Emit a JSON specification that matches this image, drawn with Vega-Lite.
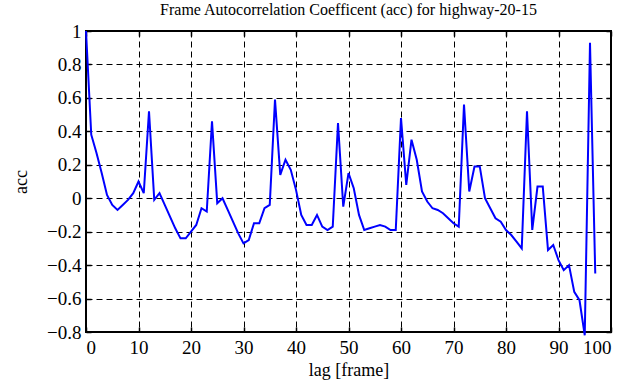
{
  "$schema": "https://vega.github.io/schema/vega-lite/v6.json",
  "autosize": "none",
  "width": 525,
  "height": 301,
  "padding": {"left": 86, "top": 31, "right": 30, "bottom": 55},
  "background": "white",
  "title": {"text": "Frame Autocorrelation Coefficent (acc) for highway-20-15", "font": "Liberation Serif", "fontSize": 16, "fontWeight": "normal", "color": "black", "offset": 4, "anchor": "middle"},
  "config": {
    "view": {"stroke": "black", "strokeWidth": 2},
    "axis": {"titleFont": "Liberation Serif", "titleFontSize": 18, "titleFontWeight": "normal", "labelColor": "black", "titleColor": "black", "domain": false, "tickColor": "black", "tickSize": -5, "tickWidth": 1.5, "gridColor": "black", "gridDash": [6, 4], "gridOpacity": 1, "gridWidth": 1}
  },
  "data": {"values": [
    {"lag": 0, "acc": 1.0}, {"lag": 1, "acc": 0.38}, {"lag": 2, "acc": 0.27}, {"lag": 3, "acc": 0.15}, {"lag": 4, "acc": 0.02},
    {"lag": 5, "acc": -0.04}, {"lag": 6, "acc": -0.07}, {"lag": 7, "acc": -0.04}, {"lag": 8, "acc": -0.01}, {"lag": 9, "acc": 0.03},
    {"lag": 10, "acc": 0.1}, {"lag": 11, "acc": 0.03}, {"lag": 12, "acc": 0.52}, {"lag": 13, "acc": -0.01}, {"lag": 14, "acc": 0.03},
    {"lag": 15, "acc": -0.04}, {"lag": 16, "acc": -0.11}, {"lag": 17, "acc": -0.18}, {"lag": 18, "acc": -0.24}, {"lag": 19, "acc": -0.24},
    {"lag": 20, "acc": -0.2}, {"lag": 21, "acc": -0.16}, {"lag": 22, "acc": -0.06}, {"lag": 23, "acc": -0.08}, {"lag": 24, "acc": 0.46},
    {"lag": 25, "acc": -0.03}, {"lag": 26, "acc": 0.0}, {"lag": 27, "acc": -0.07}, {"lag": 28, "acc": -0.14}, {"lag": 29, "acc": -0.21},
    {"lag": 30, "acc": -0.27}, {"lag": 31, "acc": -0.25}, {"lag": 32, "acc": -0.15}, {"lag": 33, "acc": -0.15}, {"lag": 34, "acc": -0.06},
    {"lag": 35, "acc": -0.04}, {"lag": 36, "acc": 0.59}, {"lag": 37, "acc": 0.14}, {"lag": 38, "acc": 0.23}, {"lag": 39, "acc": 0.17},
    {"lag": 40, "acc": 0.05}, {"lag": 41, "acc": -0.1}, {"lag": 42, "acc": -0.16}, {"lag": 43, "acc": -0.16}, {"lag": 44, "acc": -0.1},
    {"lag": 45, "acc": -0.17}, {"lag": 46, "acc": -0.19}, {"lag": 47, "acc": -0.17}, {"lag": 48, "acc": 0.45}, {"lag": 49, "acc": -0.05},
    {"lag": 50, "acc": 0.15}, {"lag": 51, "acc": 0.06}, {"lag": 52, "acc": -0.1}, {"lag": 53, "acc": -0.19}, {"lag": 54, "acc": -0.18},
    {"lag": 55, "acc": -0.17}, {"lag": 56, "acc": -0.16}, {"lag": 57, "acc": -0.17}, {"lag": 58, "acc": -0.19}, {"lag": 59, "acc": -0.19},
    {"lag": 60, "acc": 0.48}, {"lag": 61, "acc": 0.08}, {"lag": 62, "acc": 0.35}, {"lag": 63, "acc": 0.23}, {"lag": 64, "acc": 0.04},
    {"lag": 65, "acc": -0.02}, {"lag": 66, "acc": -0.06}, {"lag": 67, "acc": -0.07}, {"lag": 68, "acc": -0.09}, {"lag": 69, "acc": -0.12},
    {"lag": 70, "acc": -0.15}, {"lag": 71, "acc": -0.17}, {"lag": 72, "acc": 0.56}, {"lag": 73, "acc": 0.04}, {"lag": 74, "acc": 0.19},
    {"lag": 75, "acc": 0.19}, {"lag": 76, "acc": 0.0}, {"lag": 77, "acc": -0.06}, {"lag": 78, "acc": -0.12}, {"lag": 79, "acc": -0.14},
    {"lag": 80, "acc": -0.19}, {"lag": 81, "acc": -0.22}, {"lag": 82, "acc": -0.26}, {"lag": 83, "acc": -0.3}, {"lag": 84, "acc": 0.52},
    {"lag": 85, "acc": -0.19}, {"lag": 86, "acc": 0.07}, {"lag": 87, "acc": 0.07}, {"lag": 88, "acc": -0.31}, {"lag": 89, "acc": -0.28},
    {"lag": 90, "acc": -0.37}, {"lag": 91, "acc": -0.43}, {"lag": 92, "acc": -0.4}, {"lag": 93, "acc": -0.56}, {"lag": 94, "acc": -0.61},
    {"lag": 95, "acc": -0.82}, {"lag": 96, "acc": 0.93}, {"lag": 97, "acc": -0.45}
  ]},
  "layer": [
    {
      "mark": {"type": "line", "color": "#0000ff", "strokeWidth": 2, "clip": false},
      "encoding": {
        "x": {"field": "lag", "type": "quantitative", "scale": {"domain": [0, 100], "nice": false, "zero": false},
              "axis": {"title": "lag [frame]", "values": [0,10,20,30,40,50,60,70,80,90,100], "labelFont": "Liberation Serif", "labelFontSize": 19, "labelPadding": 11, "titlePadding": 4, "grid": true}},
        "y": {"field": "acc", "type": "quantitative", "scale": {"domain": [-0.8, 1], "nice": false, "zero": false},
              "axis": {"title": "acc", "values": [-0.8,-0.6,-0.4,-0.2,0,0.2,0.4,0.6,0.8,1], "labelFont": "Liberation Serif", "labelFontSize": 19, "labelPadding": 10, "titlePadding": 16, "grid": true, "format": "~g"}}
      }
    },
    {
      "mark": {"type": "line", "opacity": 0},
      "encoding": {
        "x": {"field": "lag", "type": "quantitative", "axis": {"orient": "top", "labels": false, "title": null, "grid": false, "values": [0,10,20,30,40,50,60,70,80,90,100]}},
        "y": {"field": "acc", "type": "quantitative", "axis": {"orient": "right", "labels": false, "title": null, "grid": false, "values": [-0.8,-0.6,-0.4,-0.2,0,0.2,0.4,0.6,0.8,1]}}
      }
    }
  ],
  "resolve": {"axis": {"x": "independent", "y": "independent"}}
}
